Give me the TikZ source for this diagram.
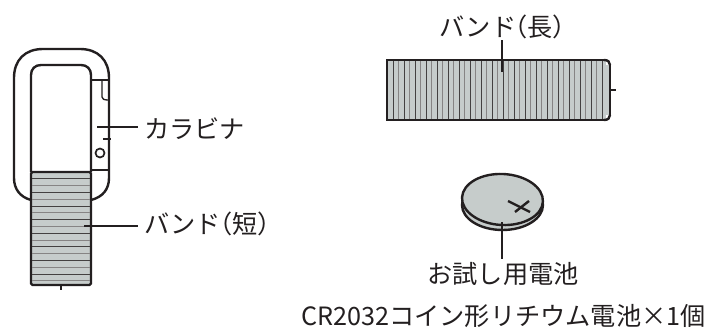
\documentclass[tikz,border=0pt]{standalone}
\usepackage{fontspec}
\setmainfont{Noto Sans CJK JP}
\definecolor{bandgray}{HTML}{C6CCCB}
\definecolor{ink}{HTML}{231F20}
\tikzset{
  outline/.style={draw=ink,line width=2.4pt},
  thinline/.style={draw=ink,line width=1.3pt},
  stripe/.style={draw=ink!85,line width=1pt},
  softstripe/.style={draw=ink!55,line width=1pt},
  leader/.style={draw=ink,line width=1.2pt},
  lbl/.style={font=\fontsize{25.2}{29}\selectfont,text=ink,inner sep=0pt,anchor=west}
}
\newcommand{\paro}{\kern-.55em（}
\newcommand{\parc}{）\kern-.45em}
\begin{document}
\begin{tikzpicture}[x=1pt,y=-1pt]
\useasboundingbox (0,0) rectangle (722,334);
\fill[white] (0,0) rectangle (722,334);
% carabiner
\draw[outline] (31,200) .. controls (20,197) and (14,189) .. (14,178) -- (14,78) .. controls (14,60) and (25,49) .. (43,49) -- (80,49) .. controls (98,49) and (109,60) .. (109,78) -- (109,178) .. controls (109,189) and (103,197) .. (91,200);
\draw[outline] (31,172) -- (31,75) .. controls (31,69) and (35,65) .. (41,65) -- (81,65) .. controls (87,65) and (91,69) .. (91,75) -- (91,172);
\draw[thinline] (91,80) -- (108,80);
\draw[thinline] (91,170) -- (108,170);
\draw[thinline] (102,80) -- (102,97) .. controls (102,99) and (104,100) .. (108,100);
\draw[thinline] (103,139) -- (111,139);
\node[circle,draw=ink,line width=1.7pt,minimum size=9pt,inner sep=0pt] (hole) at (100,153) {};
% short band
\node[draw=ink,line width=2.4pt,fill=bandgray,rounded corners=1.5pt,minimum width=60pt,minimum height=113pt,inner sep=0pt] (bandS) at (61,228.5) {};
\foreach \y in {178,192,206,219,233,246,260,274} \draw[stripe] (32,\y) -- (90,\y);
\foreach \y in {185,199,212,226,240,253,267,280} \draw[softstripe] (32,\y) -- (90,\y);
\coordinate (tailS) at (61,290);
\draw[outline] (bandS.south) -- (tailS);
% long band
\node[draw=ink,line width=2.4pt,fill=bandgray,inner sep=0pt,minimum width=223pt,minimum height=60pt] (bandL) at (498.5,90) {};
\foreach \x in {393,404,415,426,437,448,459,470,481,492,503,514,525,536,547,558,569,580,591,602} \draw[stripe] (\x,61) -- (\x,119);
\foreach \x in {398.5,409.5,420.5,431.5,442.5,453.5,464.5,475.5,486.5,497.5,508.5,519.5,530.5,541.5,552.5,563.5,574.5,585.5,596.5} \draw[softstripe] (\x,61) -- (\x,119);
\fill[white] (606,58) rectangle (612,65);
\fill[white] (606,115) rectangle (612,122);
\draw[outline,line cap=round] (604,60) .. controls (608,60) and (610,62) .. (610,65);
\draw[outline,line cap=round] (604,120) .. controls (608,120) and (610,118) .. (610,115);
\coordinate (tailL) at (616,90);
\draw[outline] (610,90) -- (tailL);
% coin
\draw[outline,fill=bandgray] (502.5,205) ellipse [x radius=40.5,y radius=25];
\draw[outline,fill=bandgray,rotate around={-3:(502.5,199)}] (502.5,199.5) ellipse [x radius=40.5,y radius=25.5];
\draw[outline] (508,201) -- (530,212);
\draw[outline] (529,201) -- (515,212);
% labels
\node[lbl] (tK) at (144,129) {カラビナ};
\node[lbl] (tS) at (144,224) {バンド\paro 短\parc};
\node[lbl,anchor=center] (tL) at (503,27) {バンド\paro 長\parc};
\node[lbl,anchor=center] (tC) at (503,274) {お試し用電池};
\node[lbl,anchor=center] (tB) at (503.5,316) {CR2032コイン形リチウム電池×1個};
% leaders
\coordinate (lK) at (97,127);
\coordinate (lS) at (84,226);
\coordinate (lL) at (502,72);
\coordinate (lC) at (502,222);
\draw[leader] (lK) -- (138,127);
\draw[leader] (lS) -- (138,226);
\draw[leader] (lL) -- (502,40);
\draw[leader] (lC) -- (502,259);
\end{tikzpicture}
\end{document}
